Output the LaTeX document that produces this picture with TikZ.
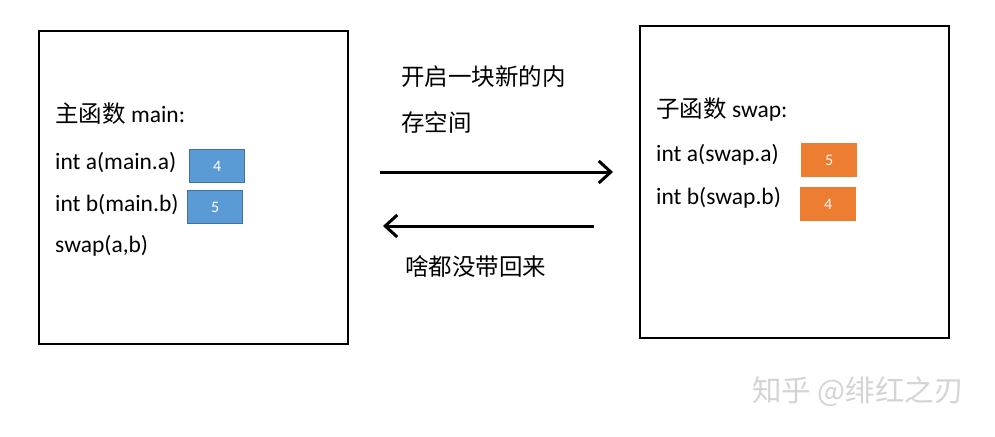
\documentclass[tikz,border=0pt]{standalone}
\usepackage{fontspec}
\setmainfont{Carlito}
\newfontfamily\cjk{Noto Sans CJK SC}
\usepackage{xcolor}
\usepackage{tikz}
\usetikzlibrary{arrows.meta, positioning}

\definecolor{mainblue}{HTML}{5B9BD5}
\definecolor{mainedge}{HTML}{41719C}
\definecolor{swaporange}{HTML}{ED7D31}
\definecolor{markgray}{HTML}{D4D4D4}

\begin{document}
\begin{tikzpicture}[x=1pt, y=-1pt,
    frame/.style={draw, line width=2pt, anchor=north west, inner sep=0pt},
    txt/.style={anchor=base west, inner sep=0pt, font=\fontsize{23.5}{28}\selectfont},
    mainval/.style={draw=mainedge, line width=1.2pt, fill=mainblue, anchor=north west,
      minimum width=55pt, minimum height=33pt, inner sep=0pt, text=white,
      text depth=-3pt, font=\fontsize{16}{18}\selectfont},
    swapval/.style={fill=swaporange, anchor=north west,
      minimum width=56pt, minimum height=34pt, inner sep=0pt, text=white,
      text depth=-3pt, font=\fontsize{16}{18}\selectfont},
    arr/.style={-{Straight Barb[length=12pt, width=22pt, line width=3pt]}, line width=3pt}
  ]
  \useasboundingbox (0,0) rectangle (995,436);
  % Frames
  \node[frame, minimum width=309pt, minimum height=313pt] (mainbox) at (38,30) {};
  \node[frame, minimum width=309pt, minimum height=312pt] (swapbox) at (639,25) {};
  % main side
  \node[txt] (maintitle) at (55,122) {{\cjk 主函数} main:};
  \node[txt] (ia) at (55,169) {int a(main.a)};
  \node[txt] (ib) at (55,211) {int b(main.b)};
  \node[txt] (call) at (55,252) {swap(a,b)};
  \node[mainval] (va) at (189,149) {4};
  \node[mainval] (vb) at (187,190) {5};
  % swap side
  \node[txt] (swaptitle) at (656,117) {{\cjk 子函数} swap:};
  \node[txt] (sa) at (656,161) {int a(swap.a)};
  \node[txt] (sb) at (656,204) {int b(swap.b)};
  \node[swapval] (wa) at (801,143) {5};
  \node[swapval] (wb) at (800,187) {4};
  % Arrows
  \coordinate (gostart) at (380,172);
  \coordinate (goend) at (613,172);
  \coordinate (backstart) at (594,226);
  \coordinate (backend) at (383,226);
  \draw[arr] (gostart) -- (goend);
  \draw[arr] (backstart) -- (backend);
  \node[txt, font=\cjk\fontsize{23.5}{28}\selectfont] (golabel1) at (401,85) {开启一块新的内};
  \node[txt, font=\cjk\fontsize{23.5}{28}\selectfont] (golabel2) at (401,131) {存空间};
  \node[txt, font=\cjk\fontsize{23.5}{28}\selectfont] (backlabel) at (405,275) {啥都没带回来};
  % Watermark
  \node[txt, text=markgray, font=\cjk\fontsize{29.5}{34}\selectfont] (mark) at (752,401) {知乎 @绯红之刃};
\end{tikzpicture}
\end{document}
